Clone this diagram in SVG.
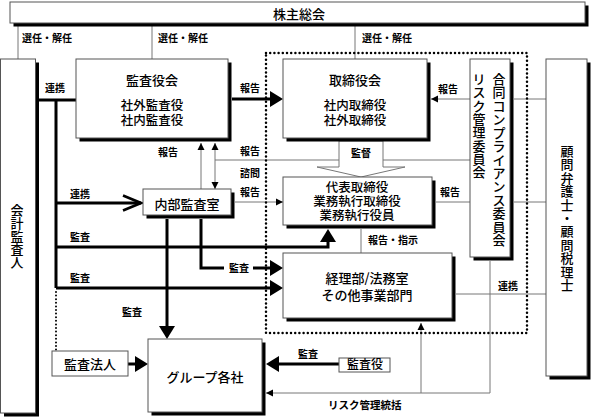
<svg xmlns="http://www.w3.org/2000/svg" width="591" height="418" viewBox="0 0 591 418">
<style>
.box{fill:#fff;stroke:#555;stroke-width:1}
.sh{fill:#000}
.thin{fill:none;stroke:#777;stroke-width:1}
.thick{fill:none;stroke:#000;stroke-width:3}
.dot{fill:none;stroke:#000;stroke-width:2.5;stroke-dasharray:0 4.2;stroke-linecap:round}
.lbl{font-family:"Noto Sans CJK JP","Noto Sans CJK SC",sans-serif;font-size:10px;font-weight:700;fill:#000}
.t{font-family:"Noto Sans CJK JP","Noto Sans CJK SC",sans-serif;font-size:13px;font-weight:500;fill:#000;text-anchor:middle}
.s{font-size:12.5px}
.v{font-family:"Noto Sans CJK JP","Noto Sans CJK SC",sans-serif;font-size:13px;font-weight:500;fill:#000;text-anchor:middle}
</style>
<defs>
<marker id="sm" markerUnits="userSpaceOnUse" markerWidth="8" markerHeight="8" refX="7" refY="4" orient="auto"><path d="M0,0.5 L7,4 L0,7.5 z" fill="#000"/></marker>
<marker id="big" markerUnits="userSpaceOnUse" markerWidth="14" markerHeight="16" refX="10" refY="8" orient="auto"><path d="M0,0 L13,8 L0,16 z" fill="#000"/></marker>
<marker id="chev" markerUnits="userSpaceOnUse" markerWidth="22" markerHeight="20" refX="19" refY="10" orient="auto"><path d="M1,2.5 L19,10 L1,17.5" fill="none" stroke="#000" stroke-width="2.6"/></marker>
</defs>

<g id="connectors">
<path class="thin" d="M18,25V59M152,25V59M355,25V59"/>
<path class="thick" d="M232,99H280" marker-end="url(#big)"/>
<path class="thin" d="M470,99H431" marker-end="url(#sm)"/>
<path class="thin" d="M514,99H546"/>
<path class="thick" d="M39,100H76M56,100V288"/>
<path class="thick" d="M56,203H141" marker-end="url(#chev)"/>
<path class="thick" d="M56,247H328V232" marker-end="url(#big)"/>
<path class="thick" d="M56,288H280" marker-end="url(#big)"/>
<path class="dot" d="M56,292V350" style="stroke-width:2;stroke-dasharray:0 3.6"/>
<path class="thick" d="M167,219V336" marker-end="url(#big)"/>
<path class="thick" d="M201,219V268H280" marker-end="url(#big)"/>
<path class="thin" d="M201,189V143" marker-end="url(#sm)"/>
<path class="thin" d="M470,160H215V143" marker-end="url(#sm)"/>
<path class="thin" d="M215,160V189" marker-end="url(#sm)"/>
<path class="thin" d="M235,202H283" marker-end="url(#sm)"/>
<path class="thin" d="M436,202H470M514,202H546"/>
<polygon points="339,141 339,167 317,167 361,177 405,167 383,167 383,141" fill="#fff" stroke="#777" stroke-width="1"/>
<path class="thin" d="M361,229V253"/>
<path class="thin" d="M456,294H546"/>
<path class="thin" d="M490,261V393H266" marker-end="url(#sm)"/>
<path class="thin" d="M421,393V323" marker-end="url(#sm)"/>
<path class="thick" d="M128,364H145" marker-end="url(#big)"/>
<path class="thick" d="M339,364H269" marker-end="url(#big)"/>
<rect x="266" y="53" width="261" height="280" class="dot"/>
<rect x="224" y="262" width="29" height="12" fill="#fff"/>
</g>

<g id="labels">
<text class="lbl" x="22" y="42">選任・解任</text>
<text class="lbl" x="158" y="42">選任・解任</text>
<text class="lbl" x="362" y="42">選任・解任</text>
<text class="lbl" x="45" y="92">連携</text>
<text class="lbl" x="240" y="92">報告</text>
<text class="lbl" x="438" y="93">報告</text>
<text class="lbl" x="158" y="156">報告</text>
<text class="lbl" x="240" y="155">報告</text>
<text class="lbl" x="240" y="177">諮問</text>
<text class="lbl" x="240" y="196">報告</text>
<text class="lbl" x="361" y="157" text-anchor="middle">監督</text>
<text class="lbl" x="440" y="196">報告</text>
<text class="lbl" x="70" y="198">連携</text>
<text class="lbl" x="70" y="241">監査</text>
<text class="lbl" x="70" y="282">監査</text>
<text class="lbl" x="229" y="272">監査</text>
<text class="lbl" x="122" y="316">監査</text>
<text class="lbl" x="368" y="244">報告・指示</text>
<text class="lbl" x="498" y="290">連携</text>
<text class="lbl" x="298" y="358">監査</text>
<text class="lbl" x="328" y="409" style="font-size:10.5px">リスク管理統括</text>
</g>

<g id="n-kabunushi">
<rect class="sh" x="13.5" y="5.5" width="575" height="21"/>
<rect class="box" x="10" y="2" width="575" height="21"/>
<text class="t" x="299" y="18.5">株主総会</text>
</g>

<g id="n-kaikei">
<rect class="sh" x="4" y="62.5" width="35" height="354"/>
<rect class="box" x="0.5" y="59" width="35" height="354"/>
<text class="v" x="17 17 17 17 17" y="215 228 241 254 267">会計監査人</text>
</g>

<g id="n-kansayakukai">
<rect class="sh" x="79.5" y="62.5" width="152" height="79"/>
<rect class="box" x="76" y="59" width="152" height="79"/>
<text class="t" x="152" y="84.5">監査役会</text>
<text class="t s" x="152" y="110">社外監査役<tspan x="152" dy="14.5">社内監査役</tspan></text>
</g>

<g id="n-torishimariyakukai">
<rect class="sh" x="286.5" y="62.5" width="144" height="79"/>
<rect class="box" x="283" y="59" width="144" height="79"/>
<text class="t" x="355" y="84.5">取締役会</text>
<text class="t s" x="355" y="110">社内取締役<tspan x="355" dy="14.5">社外取締役</tspan></text>
</g>

<g id="n-goudou">
<rect class="sh" x="473.5" y="62.5" width="40" height="198"/>
<rect class="box" x="470" y="59" width="40" height="198"/>
<text class="v" x="499 499 499 499 499 499 499 499 499 499 499 499 499" y="84 97.4 110.8 124.3 137.7 151.1 164.5 177.9 191.4 204.8 218.2 231.6 245">合同コンプライアンス委員会</text>
<text class="v" x="479 479 479 479 479 479 479 479" y="84 97.3 110.6 123.9 137.2 150.5 163.8 177.1">リスク管理委員会</text>
</g>

<g id="n-komon">
<rect class="sh" x="549.5" y="62.5" width="41" height="317"/>
<rect class="box" x="546" y="59" width="41" height="317"/>
<text class="v" x="567 567 567 567 567 567 567 567 567 567 567" y="156 169.4 182.8 196.2 209.6 223 236.4 249.8 263.2 276.6 290">顧問弁護士・顧問税理士</text>
</g>

<g id="n-naibu">
<rect class="sh" x="146.5" y="192.5" width="88" height="26"/>
<rect class="box" x="143" y="189" width="88" height="26"/>
<text class="t" x="187" y="208.5">内部監査室</text>
</g>

<g id="n-daihyo">
<rect class="sh" x="286.5" y="180.5" width="149" height="48"/>
<rect class="box" x="283" y="177" width="149" height="48"/>
<text class="t s" x="357" y="191.5">代表取締役<tspan x="357" dy="14">業務執行取締役</tspan><tspan x="357" dy="14">業務執行役員</tspan></text>
</g>

<g id="n-keiri">
<rect class="sh" x="286.5" y="256.5" width="169" height="65"/>
<rect class="box" x="283" y="253" width="169" height="65"/>
<text class="t" x="367" y="282.5">経理部/法務室</text>
<text class="t" x="367" y="299.5">その他事業部門</text>
</g>

<g id="n-group">
<rect class="sh" x="151.5" y="342.5" width="114" height="73"/>
<rect class="box" x="148" y="339" width="114" height="73"/>
<text class="t" x="205" y="381.5">グループ各社</text>
</g>

<g id="n-kansahoujin">
<rect class="box" x="52" y="351" width="76" height="25"/>
<text class="t" x="90" y="368.5">監査法人</text>
</g>

<g id="n-kansayaku">
<rect class="box" x="339" y="358" width="51" height="14"/>
<text class="t" x="365" y="369" style="font-size:12px">監査役</text>
</g>
</svg>
